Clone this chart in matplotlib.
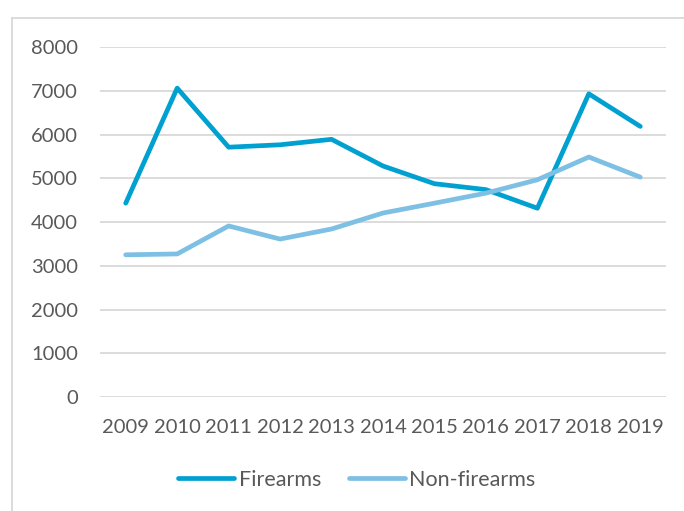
import matplotlib.pyplot as plt
from matplotlib.lines import Line2D

years = [2009, 2010, 2011, 2012, 2013, 2014, 2015, 2016, 2017, 2018, 2019]
firearms = [4430, 7060, 5710, 5765, 5890, 5280, 4875, 4740, 4315, 6930, 6185]
non_firearms = [3250, 3270, 3910, 3610, 3840, 4205, 4430, 4660, 4965, 5485, 5025]

TEXT = '#595959'
GRID = '#D9D9D9'

plt.rcParams['font.family'] = ['Lato', 'DejaVu Sans']

fig = plt.figure(figsize=(6.84, 5.11), dpi=100)
ax = fig.add_axes([100 / 684, 1 - 397 / 511, 566 / 684, 350 / 511])

ax.plot(years, firearms, color='#00A0D1', lw=3.4, solid_capstyle='round',
        solid_joinstyle='round', label='Firearms')
ax.plot(years, non_firearms, color='#7DC0E4', lw=3.4, solid_capstyle='round',
        solid_joinstyle='round', label='Non-firearms')

ax.set_xlim(2008.5, 2019.5)
ax.set_ylim(0, 8000)
ax.set_yticks(range(0, 8001, 1000))
ax.set_xticks(years)
ax.grid(axis='y', color=GRID, lw=1.3)
ax.set_axisbelow(True)
for s in ['top', 'right', 'left', 'bottom']:
    ax.spines[s].set_visible(False)
ax.tick_params(axis='both', length=0, labelsize=14.5, labelcolor=TEXT)
ax.tick_params(axis='y', pad=16)
ax.tick_params(axis='x', pad=16)

leg = fig.legend(loc='center', bbox_to_anchor=(357 / 684, 1 - 480 / 511), ncol=2,
                 frameon=False, fontsize=15.5, handlelength=2.6, handletextpad=0.2,
                 columnspacing=1.3, labelcolor=TEXT)

# chart border (only left and top visible in the crop)
fig.add_artist(Line2D([12 / 684, 12 / 684], [0, 1 - 18 / 511], color=GRID, lw=1.3,
                      transform=fig.transFigure))
fig.add_artist(Line2D([12 / 684, 1], [1 - 18 / 511, 1 - 18 / 511], color=GRID, lw=1.3,
                      transform=fig.transFigure))

fig.savefig('out.png', dpi=100)
